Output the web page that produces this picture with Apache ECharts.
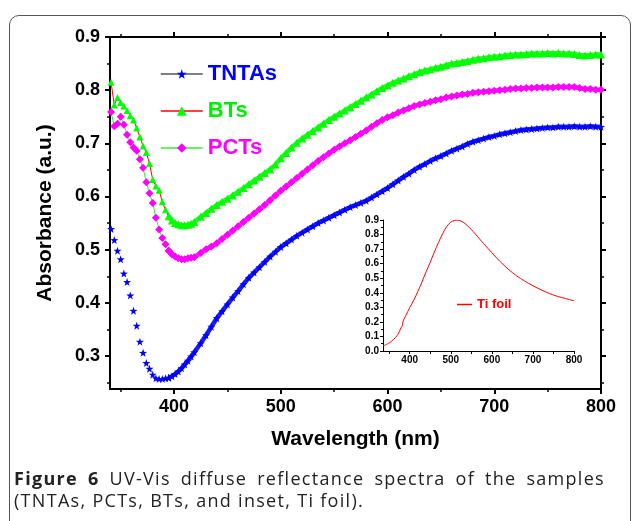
<!DOCTYPE html>
<html>
<head>
<meta charset="utf-8">
<script src="https://cdn.jsdelivr.net/npm/echarts@6/dist/echarts.min.js"></script>
<style>
  html, body { margin: 0; padding: 0; background: #fff; width: 632px; height: 521px; overflow: hidden; }
  #frame { position: absolute; left: 9px; top: 15px; width: 622px; height: 540px; border: 1.5px solid #555; border-radius: 10px; box-sizing: border-box; }
  #chart { position: absolute; left: 0; top: 0; width: 632px; height: 521px; }
  #caption { position: absolute; left: 14px; top: 467px; width: 591px; font-family: "Open Sans", sans-serif; font-size: 18px; line-height: 22px; color: #222; letter-spacing: 1.3px; }
  #caption .l1 { text-align: justify; text-align-last: justify; }
  #caption b { font-weight: 700; }
</style>
</head>
<body>
<div id="frame"></div>
<div id="chart"></div>
<div id="caption">
  <div class="l1"><b>Figure 6</b> UV-Vis diffuse reflectance spectra of the samples</div>
  <div>(TNTAs, PCTs, BTs, and inset, Ti foil).</div>
</div>
<script>
// ---- data ----
const wavelengths = [341,344,347,350,353,356,359,362,365,368,371,374,377,380,383,386,389,392,395,398,401,404,407,410,413,416,419,
  425,430,435,440,445,450,455,460,465,470,475,480,485,490,495,500,505,510,515,520,
  525,530,535,540,545,550,555,560,565,570,575,580,585,590,595,600,605,610,615,620,
  625,630,635,640,645,650,655,660,665,670,675,680,685,690,695,700,705,710,715,720,
  725,730,735,740,745,750,755,760,765,770,775,780,785,790,795,800];

const tntas = [0.539,0.518,0.498,0.482,0.455,0.439,0.414,0.385,0.357,0.327,0.306,0.287,0.276,0.265,0.258,0.257,0.257,0.258,0.259,0.262,0.266,0.271,0.277,0.284,0.291,0.299,0.307,
  0.324,0.339,0.355,0.371,0.384,0.397,0.410,0.422,0.435,0.447,0.457,0.467,0.477,0.487,0.496,0.505,0.512,0.519,0.526,0.532,
  0.538,0.544,0.550,0.555,0.560,0.565,0.570,0.575,0.580,0.584,0.588,0.592,0.598,0.604,0.610,0.616,0.623,0.630,0.637,0.643,
  0.650,0.656,0.661,0.667,0.672,0.676,0.681,0.686,0.690,0.694,0.699,0.703,0.706,0.709,0.712,0.714,0.717,0.719,0.721,0.723,
  0.725,0.726,0.727,0.728,0.729,0.730,0.730,0.731,0.731,0.731,0.732,0.731,0.731,0.732,0.731,0.731];

const bts = [0.815,0.772,0.786,0.777,0.770,0.762,0.752,0.744,0.729,0.712,0.695,0.683,0.662,0.632,0.620,0.612,0.590,0.575,0.563,0.555,0.550,0.548,0.546,0.546,0.547,0.549,0.552,
  0.562,0.569,0.577,0.584,0.590,0.596,0.602,0.609,0.616,0.623,0.630,0.637,0.644,0.651,0.660,0.672,0.682,0.692,0.701,0.709,
  0.716,0.723,0.730,0.737,0.744,0.750,0.756,0.762,0.768,0.774,0.780,0.786,0.792,0.798,0.804,0.809,0.814,0.818,0.822,0.826,
  0.830,0.834,0.837,0.839,0.842,0.844,0.847,0.850,0.851,0.853,0.855,0.857,0.859,0.860,0.862,0.863,0.864,0.865,0.866,0.867,
  0.867,0.868,0.869,0.869,0.869,0.870,0.869,0.870,0.869,0.869,0.868,0.866,0.865,0.866,0.867,0.867];

const pcts = [0.759,0.732,0.737,0.750,0.735,0.716,0.702,0.692,0.686,0.670,0.654,0.627,0.606,0.588,0.560,0.538,0.522,0.510,0.498,0.491,0.487,0.484,0.482,0.482,0.484,0.485,0.486,
  0.494,0.501,0.506,0.512,0.520,0.528,0.536,0.544,0.552,0.560,0.568,0.576,0.584,0.593,0.602,0.611,0.619,0.627,0.635,0.643,
  0.651,0.659,0.667,0.674,0.681,0.688,0.694,0.700,0.706,0.712,0.718,0.724,0.731,0.738,0.744,0.749,0.753,0.758,0.762,0.766,
  0.770,0.773,0.776,0.778,0.781,0.783,0.786,0.788,0.790,0.792,0.793,0.795,0.796,0.797,0.798,0.799,0.800,0.801,0.802,0.803,
  0.803,0.804,0.804,0.805,0.805,0.805,0.805,0.806,0.806,0.806,0.806,0.804,0.802,0.802,0.801,0.801];

const tiWavelengths = [335,350,360,370,380,382,383,385,390,400,410,420,430,440,450,460,470,480,490,500,
  510,515,520,530,540,550,560,570,580,600,620,640,660,680,700,720,740,760,780,800];
const tiFoil = [0.034,0.055,0.078,0.108,0.165,0.172,0.195,0.213,0.240,0.298,0.350,0.410,0.475,0.545,0.610,0.680,0.745,0.805,0.855,0.885,
  0.898,0.900,0.898,0.885,0.862,0.835,0.803,0.770,0.738,0.675,0.615,0.562,0.517,0.480,0.448,0.420,0.395,0.375,0.360,0.345];

// tick values
const xMajorTicks = [400,500,600,700,800];
const xMinorTicks = [350,450,550,650,750];
const yMajorTicks = [0.3,0.4,0.5,0.6,0.7,0.8,0.9];
const yMinorTicks = [0.25,0.35,0.45,0.55,0.65,0.75,0.85];
const insetXTicks = [350,400,450,500,550,600,650,700,750,800];
const insetXLabels = [400,500,600,700,800];

// ---- chart ----
const FONT = '"Liberation Sans", Arial, sans-serif';
const STAR = 'path://M0,-10L2.35,-3.24L9.51,-3.09L3.8,1.24L5.88,8.09L0,4L-5.88,8.09L-3.8,1.24L-9.51,-3.09L-2.35,-3.24Z';
const zip = (xs, ys) => xs.map((x, i) => [x, ys[i]]);
// the steep UV edge shows separated markers; the rest is a dense marker band
const SPLIT = 18;
const steep = (ys) => zip(wavelengths, ys).slice(0, SPLIT + 1);
const flat = (ys) => zip(wavelengths, ys).slice(SPLIT);

const axLine = { show: true, onZero: false, lineStyle: { color: '#000', width: 2 } };
const noLine = { show: false };

function xAx(extra) {
  return Object.assign({
    type: 'value', gridIndex: 0, min: 340, max: 800,
    splitLine: { show: false },
    axisLabel: { show: false }
  }, extra);
}
function yAx(extra) {
  return Object.assign({
    type: 'value', gridIndex: 0, min: 0.238, max: 0.9,
    splitLine: { show: false },
    axisLabel: { show: false }
  }, extra);
}
const majTick = (vals) => ({ show: true, inside: false, length: 5, customValues: vals, lineStyle: { color: '#000', width: 2 } });
const minTick = (vals) => ({ show: true, inside: false, length: 3, customValues: vals, lineStyle: { color: '#000', width: 1.5 } });

const chart = echarts.init(document.getElementById('chart'), null, { renderer: 'canvas' });
chart.setOption({
  animation: false,
  backgroundColor: 'transparent',
  textStyle: { fontFamily: FONT },
  grid: [
    { left: 110, right: 31, top: 37, bottom: 132 },
    { left: 383, right: 58, top: 220, bottom: 170 }
  ],
  legend: [
    {
      orient: 'vertical', left: 160, top: 62, padding: 0, itemWidth: 42, itemHeight: 12, itemGap: 13,
      textStyle: { fontSize: 22, fontWeight: 'bold', fontFamily: FONT, lineHeight: 24 },
      data: [
        { name: 'TNTAs', textStyle: { color: '#0000ff' }, lineStyle: { color: '#555', width: 1.5 } },
        { name: 'BTs', textStyle: { color: '#00ee00' }, lineStyle: { color: '#ff0000', width: 1.5 } },
        { name: 'PCTs', textStyle: { color: '#ff00ff' }, lineStyle: { color: '#33ee33', width: 1.5 } }
      ]
    },
    {
      left: 457, top: 298, padding: 0, itemWidth: 15, itemHeight: 1.5, itemGap: 4,
      textStyle: { fontSize: 13, fontWeight: 'bold', color: '#ff0000', fontFamily: FONT },
      data: [{ name: 'Ti foil', icon: 'rect', itemStyle: { color: '#ff0000' } }]
    }
  ],
  xAxis: [
    xAx({ position: 'bottom', axisLine: axLine, axisTick: majTick(xMajorTicks),
      axisLabel: { show: true, customValues: xMajorTicks, margin: 9, fontSize: 18, fontWeight: 'bold', color: '#000', fontFamily: FONT },
      name: 'Wavelength (nm)', nameLocation: 'middle', nameGap: 40,
      nameTextStyle: { fontSize: 21, fontWeight: 'bold', color: '#000', fontFamily: FONT } }),
    xAx({ position: 'bottom', axisLine: noLine, axisTick: minTick(xMinorTicks) }),
    xAx({ position: 'top', axisLine: axLine, axisTick: majTick(xMajorTicks) }),
    xAx({ position: 'top', axisLine: noLine, axisTick: minTick(xMinorTicks) }),
    {
      type: 'value', gridIndex: 1, min: 335, max: 800, position: 'bottom',
      splitLine: { show: false },
      axisLine: { show: true, onZero: false, lineStyle: { color: '#000', width: 1 } },
      axisTick: { show: true, inside: false, length: 3, customValues: insetXTicks, lineStyle: { color: '#000', width: 1 } },
      axisLabel: { show: true, customValues: insetXLabels, margin: 4, fontSize: 10, fontWeight: 'bold', color: '#000', fontFamily: FONT }
    }
  ],
  yAxis: [
    yAx({ position: 'left', axisLine: axLine, axisTick: majTick(yMajorTicks),
      axisLabel: { show: true, customValues: yMajorTicks, margin: 10, fontSize: 18, fontWeight: 'bold', color: '#000', fontFamily: FONT,
        formatter: v => v.toFixed(1) },
      name: 'Absorbance (a.u.)', nameLocation: 'middle', nameGap: 54, nameRotate: 90,
      nameTextStyle: { fontSize: 21, fontWeight: 'bold', color: '#000', fontFamily: FONT } }),
    yAx({ position: 'left', axisLine: noLine, axisTick: minTick(yMinorTicks) }),
    yAx({ position: 'right', axisLine: axLine, axisTick: majTick(yMajorTicks) }),
    yAx({ position: 'right', axisLine: noLine, axisTick: minTick(yMinorTicks) }),
    {
      type: 'value', gridIndex: 1, min: 0, max: 0.9, interval: 0.1, position: 'left',
      splitLine: { show: false },
      axisLine: { show: true, onZero: false, lineStyle: { color: '#000', width: 1 } },
      axisTick: { show: true, inside: false, length: 3, lineStyle: { color: '#000', width: 1 } },
      minorTick: { show: true, splitNumber: 2, length: 2, lineStyle: { color: '#000', width: 1 } },
      axisLabel: { show: true, margin: 4, fontSize: 10, fontWeight: 'bold', color: '#000', fontFamily: FONT,
        formatter: v => v.toFixed(1) }
    }
  ],
  series: [
    // steep UV-edge parts: separated markers joined by thin Origin-style lines
    {
      name: 'TNTAs', type: 'line', xAxisIndex: 0, yAxisIndex: 0, z: 3,
      data: steep(tntas),
      symbol: STAR, symbolSize: 8, showSymbol: true,
      itemStyle: { color: '#0000ff' },
      lineStyle: { width: 0, color: '#555' }
    },
    {
      name: 'BTs', type: 'line', xAxisIndex: 0, yAxisIndex: 0, z: 3,
      data: steep(bts),
      symbol: 'triangle', symbolSize: 7, showSymbol: true,
      itemStyle: { color: '#00ff00' },
      lineStyle: { width: 1, color: '#ff0000' }
    },
    {
      name: 'PCTs', type: 'line', xAxisIndex: 0, yAxisIndex: 0, z: 3,
      data: steep(pcts),
      symbol: 'diamond', symbolSize: 8, showSymbol: true,
      itemStyle: { color: '#ff00ff' },
      lineStyle: { width: 1, color: '#33ee33' }
    },
    // dense parts: overlapping markers form a continuous band
    {
      name: 'TNTAs', type: 'line', xAxisIndex: 0, yAxisIndex: 0, z: 2,
      data: flat(tntas),
      symbol: STAR, symbolSize: 8, showSymbol: true,
      itemStyle: { color: '#0000ff' },
      lineStyle: { width: 4.5, color: '#1a1aff' }
    },
    {
      name: 'BTs', type: 'line', xAxisIndex: 0, yAxisIndex: 0, z: 2,
      data: flat(bts),
      symbol: 'triangle', symbolSize: 8, showSymbol: true,
      itemStyle: { color: '#00ff00' },
      lineStyle: { width: 4.5, color: '#22ff22' }
    },
    {
      name: 'PCTs', type: 'line', xAxisIndex: 0, yAxisIndex: 0, z: 2,
      data: flat(pcts),
      symbol: 'diamond', symbolSize: 8, showSymbol: true,
      itemStyle: { color: '#ff00ff' },
      lineStyle: { width: 4.5, color: '#ff22ff' }
    },
    {
      name: 'Ti foil', type: 'line', xAxisIndex: 4, yAxisIndex: 4,
      data: zip(tiWavelengths, tiFoil),
      symbol: 'none', smooth: 0.3,
      lineStyle: { width: 1, color: '#ff0000' },
      itemStyle: { color: '#ff0000' }
    }
  ]
});
</script>
</body>
</html>
